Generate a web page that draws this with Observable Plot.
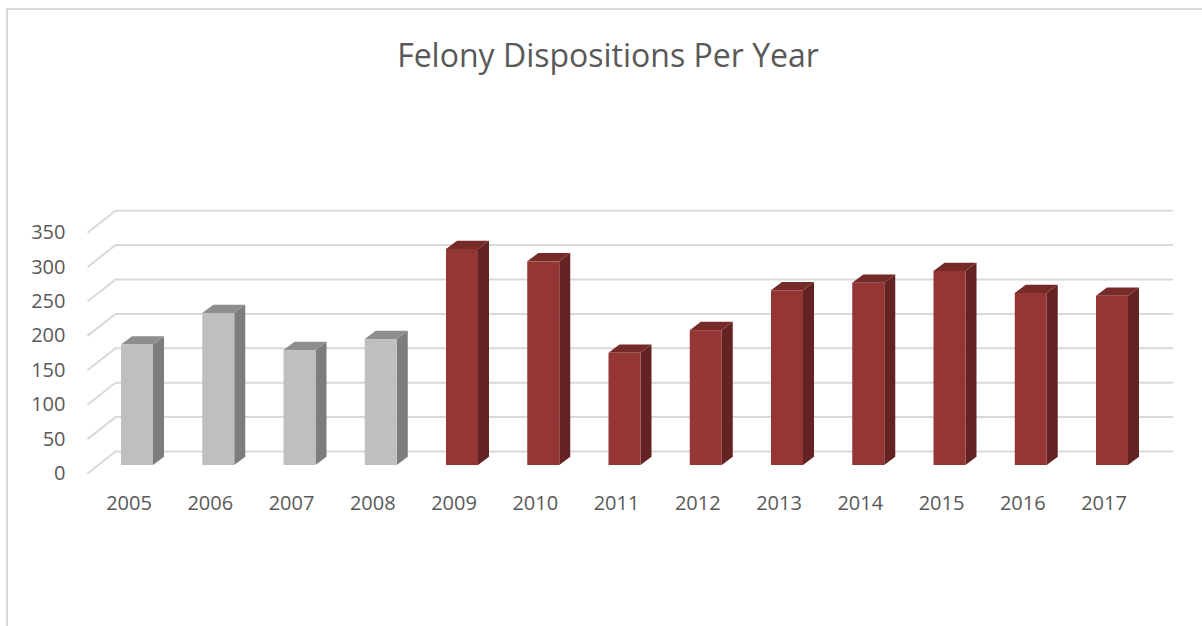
<!DOCTYPE html>
<html>
<head>
<meta charset="utf-8">
<script src="https://cdn.jsdelivr.net/npm/d3@7"></script>
<script src="https://cdn.jsdelivr.net/npm/@observablehq/plot@0.6"></script>
<style>
  html, body { margin: 0; padding: 0; background: #ffffff; overflow: hidden; }
  #wrap { position: relative; width: 1202px; height: 626px; overflow: hidden; }
  #frame { position: absolute; left: 6px; top: 8px; width: 1220px; height: 640px;
           border-left: 2px solid #d9d9d9; border-top: 2px solid #d9d9d9; }
  #title { position: absolute; top: 34px; left: 7px; width: 1202px; height: 42px; line-height: 42px;
           text-align: center; font-family: "Open Sans", sans-serif; font-size: 32px; color: #595959; }
  #chart { position: absolute; top: 100px; left: 0; }
</style>
</head>
<body>
<div id="wrap">
  <div id="frame"></div>
  <div id="title">Felony Dispositions Per Year</div>
  <div id="chart"></div>
</div>
<script>
// ---- data ----
const years = ["2005","2006","2007","2008","2009","2010","2011","2012","2013","2014","2015","2016","2017"];
const dispositions = [175, 221, 167, 183, 314, 296, 163, 196, 254, 265, 282, 250, 246];
const periods = ["before","before","before","before","after","after","after","after","after","after","after","after","after"];
const yTicks = [0, 50, 100, 150, 200, 250, 300, 350];

// ---- styling / geometry (3D oblique look) ----
const palette = {
  before: {front: "#bfbfbf", side: "#7d7d7d", top: "#8e8e8e"},
  after:  {front: "#943634", side: "#632322", top: "#762b29"}
};
const STEP = 81.25;          // px between categories
const PXU = 0.688;           // px per value unit
const HALF = 16 / STEP;      // half width of front face (x units)
const DEPTH_X = 11 / STEP;   // bar depth offset in x units
const DEPTH_Y = 8.3 / PXU;   // bar depth offset in y units
const WALL_X = -22 / STEP;   // back wall left edge
const WALL_Y = 14 / PXU;     // back wall offset above bar base
const FLOOR_X = -50 / STEP;  // front-left floor edge
const FLOOR_Y = -8 / PXU;    // front floor offset below bar base
const RIGHT_X = 1036 / STEP; // right end of gridlines
const LABEL_Y = -38 / PXU;   // category label row

const bars = years.map((y, i) => ({year: y, i, value: dispositions[i], period: periods[i]}));
const sideFaces = bars.flatMap(d => [
  {year: d.year, period: d.period, x: d.i + HALF, y1: 0, y2: d.value},
  {year: d.year, period: d.period, x: d.i + HALF + DEPTH_X, y1: DEPTH_Y, y2: d.value + DEPTH_Y}
]);
const topFaces = bars.flatMap(d => [
  {year: d.year, period: d.period, y: d.value, x1: d.i - HALF, x2: d.i + HALF},
  {year: d.year, period: d.period, y: d.value + DEPTH_Y, x1: d.i - HALF + DEPTH_X, x2: d.i + HALF + DEPTH_X}
]);

const chart = Plot.plot({
  width: 1202,
  height: 526,
  style: {fontFamily: "Open Sans, sans-serif", background: "transparent"},
  x: {type: "linear", domain: [0, years.length - 1], range: [137, 137 + (years.length - 1) * STEP], axis: null},
  y: {type: "linear", domain: [0, 350], range: [365, 365 - 350 * PXU], axis: null},
  color: {type: "identity"},
  marks: [
    // back wall gridlines
    Plot.ruleY(yTicks, {y: d => d + WALL_Y, x1: WALL_X, x2: RIGHT_X, stroke: "#d9d9d9", strokeWidth: 2}),
    // side wall diagonals
    Plot.link(yTicks, {x1: FLOOR_X, y1: d => d + FLOOR_Y, x2: WALL_X, y2: d => d + WALL_Y, stroke: "#d9d9d9", strokeWidth: 2}),
    // y labels
    Plot.text(yTicks, {x: -72 / STEP, y: d => d + FLOOR_Y, text: d => String(d), textAnchor: "end", fontSize: 20, fill: "#595959"}),
    // x labels
    Plot.text(bars, {x: d => d.i - 8.5 / STEP, y: LABEL_Y, text: "year", fontSize: 20, fill: "#595959"}),
    // bar side faces
    Plot.areaY(sideFaces, {x: "x", y1: "y1", y2: "y2", z: "year", fill: d => palette[d.period].side}),
    // bar top faces
    Plot.areaX(topFaces, {y: "y", x1: "x1", x2: "x2", z: "year", fill: d => palette[d.period].top}),
    // bar front faces
    Plot.rect(bars, {x1: d => d.i - HALF, x2: d => d.i + HALF, y1: 0, y2: "value", fill: d => palette[d.period].front})
  ]
});
document.getElementById("chart").appendChild(chart);
</script>
</body>
</html>
